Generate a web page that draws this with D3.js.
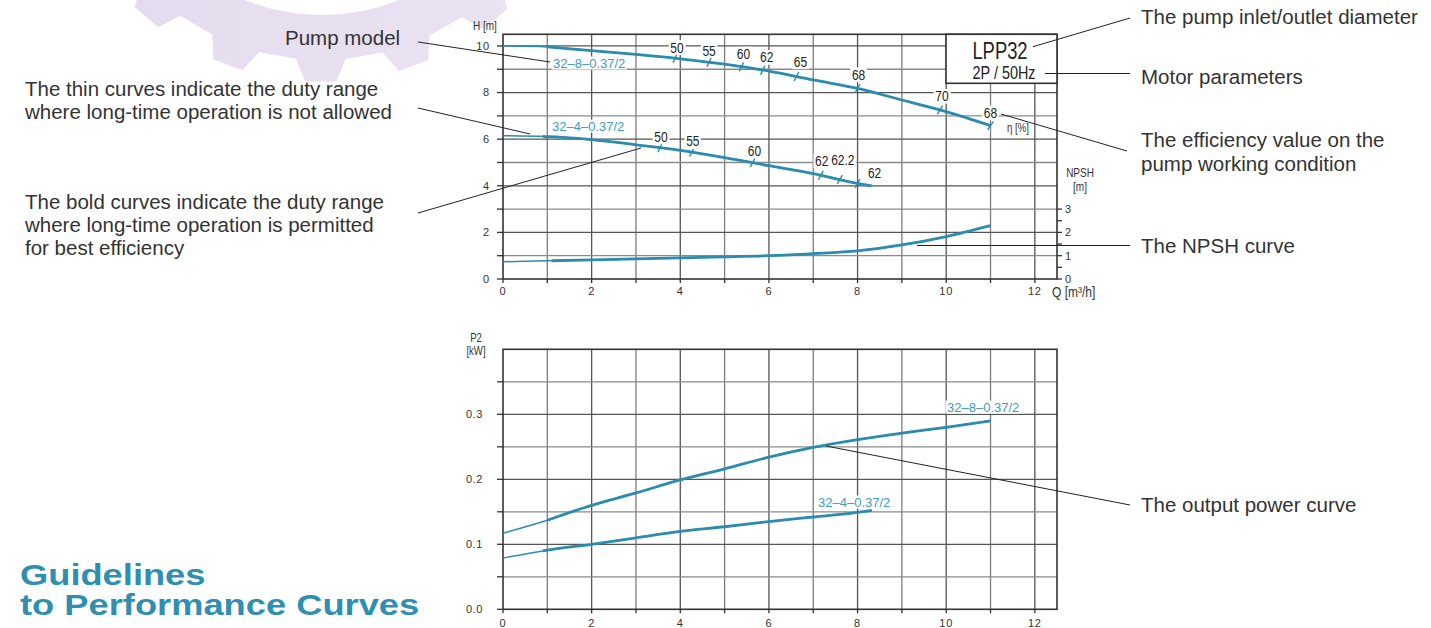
<!DOCTYPE html>
<html><head><meta charset="utf-8">
<script src="https://cdn.jsdelivr.net/npm/d3@7"></script>
<style>
html,body{margin:0;padding:0;background:#fff;}
svg{display:block;font-family:"Liberation Sans",Arial,sans-serif;}
</style></head><body>
<svg id="c" width="1431" height="628"></svg>
<script>
// ---------- data ----------
const flowQ = [0,1,2,3,4,5,6,7,8,9,10,11];
const head328 = [10.0,9.96,9.8,9.64,9.45,9.22,8.92,8.54,8.18,7.68,7.18,6.58];
const flowQ324 = [0,1,2,3,4,5,6,7,8,8.32];
const head324 = [6.15,6.11,5.98,5.76,5.52,5.21,4.86,4.52,4.1,4.0];
const npsh = [0.74,0.78,0.82,0.86,0.91,0.95,1.0,1.09,1.21,1.46,1.82,2.29];
const power328 = [0.117,0.137,0.160,0.179,0.199,0.216,0.234,0.249,0.261,0.271,0.280,0.290];
const power324 = [0.079,0.091,0.100,0.110,0.120,0.127,0.135,0.142,0.149,0.152];
const eff328Q = [3.88,4.65,5.38,5.86,6.62,8.0,9.86,11.0];
const eff328 = ["50","55","60","62","65","68","70","68"];
const eff324Q = [3.54,4.26,5.63,7.17,7.6,8.0];
const eff324 = ["50","55","60","62","62.2","62"];
const qTicks = [0,2,4,6,8,10,12];
const hTicks = [0,2,4,6,8,10];
const npshTicks = [0,1,2,3];
const pTicks = [0,0.1,0.2,0.3];
const pTickLabels = ["0.0","0.1","0.2","0.3"];
const models = ["32–8–0.37/2","32–4–0.37/2"];
const pumpName = "LPP32";
const motorText = "2P / 50Hz";

// ---------- layout (style only) ----------
const effOff328 = [[2,-11],[0,-12],[2,-13],[4,-13],[4,-15],[1,-14],[2,-14],[0,-13]];
const effOff324 = [[1,-11],[1,-11],[2,-12],[1,-15],[3,-20],[17,-11]];
const TEAL = "#2b8cad", LTEAL = "#3d9cc0", TXT = "#333";
const NX = 0.8; // horizontal condensing for narrow labels

const svg = d3.select("#c");

// ---------- watermark gear ----------
(function(){
  const cx=322, cy=-190, rRoot=250, rTip=272, rHole=205, n=18;
  const p = d3.path();
  for (let i=0;i<n;i++){
    const a0 = i*2*Math.PI/n + 0.08;
    const step = 2*Math.PI/n;
    const pts = [[a0,rRoot],[a0+step*0.12,rTip],[a0+step*0.45,rTip],[a0+step*0.57,rRoot]];
    pts.forEach((q,j)=>{
      const X=cx+q[1]*Math.cos(q[0]), Y=cy+q[1]*Math.sin(q[0]);
      if(i===0&&j===0) p.moveTo(X,Y); else p.lineTo(X,Y);
    });
  }
  p.closePath();
  p.moveTo(cx+rHole,cy); p.arc(cx,cy,rHole,0,2*Math.PI,true); p.closePath();
  const grad = svg.append("defs").append("linearGradient").attr("id","wg").attr("x1","0").attr("x2","1");
  grad.append("stop").attr("offset","0").attr("stop-color","#e4daee");
  grad.append("stop").attr("offset","1").attr("stop-color","#ebe4f2");
  svg.append("path").attr("d",p.toString()).attr("fill","url(#wg)").attr("fill-rule","evenodd");
})();

// ---------- scales ----------
const x = d3.scaleLinear().domain([0,12.5]).range([503,1057]);
const yH = d3.scaleLinear().domain([0,10.5]).range([279,34.3]);
const yP = d3.scaleLinear().domain([0,0.4]).range([609.3,349.3]);

function grid(g, yS, yMaxV, hStep, hCount){
  for(let q=1;q<=12;q++){
    g.append("line").attr("x1",x(q)).attr("x2",x(q)).attr("y1",yS(0)).attr("y2",yS(yMaxV))
      .attr("stroke", q%2? "#7d7d7d":"#555").attr("stroke-width",1.3);
  }
  for(let k=1;k<=hCount;k++){
    const v=k*hStep;
    g.append("line").attr("x1",x(0)).attr("x2",x(12.5)).attr("y1",yS(v)).attr("y2",yS(v))
      .attr("stroke", k%2? "#8a8a8a":"#555").attr("stroke-width",1.3);
  }
  g.append("rect").attr("x",x(0)).attr("y",yS(yMaxV)).attr("width",x(12.5)-x(0)).attr("height",yS(0)-yS(yMaxV))
    .attr("fill","none").attr("stroke","#333").attr("stroke-width",1.6);
}

// narrow text: regular font condensed horizontally around its anchor
function ntext(g, X, Y, str, size, anchor, fill, bg){
  const gg = g.append("g").attr("transform",`translate(${X},${Y}) scale(${NX},1)`);
  const t = gg.append("text").attr("x",0).attr("y",0).attr("dy","0.35em").text(str)
    .attr("font-size",size).attr("fill",fill||TXT).attr("text-anchor",anchor||"middle");
  if(bg){
    const bb = t.node().getBBox();
    gg.insert("rect", ()=>t.node()).attr("x",bb.x-2).attr("y",bb.y+1).attr("width",bb.width+4).attr("height",bb.height-2).attr("fill","#fff");
  }
  return t;
}

function withBg(g, X, Y, str, opts){
  const t = g.append("text").attr("x",X).attr("y",Y).text(str)
    .attr("font-size",opts.size).attr("fill",opts.fill||TXT)
    .attr("text-anchor",opts.anchor||"middle").attr("dy","0.35em");
  const bb = t.node().getBBox();
  g.insert("rect", ()=>t.node()).attr("x",bb.x-1.5).attr("y",bb.y+1).attr("width",bb.width+3).attr("height",bb.height-2).attr("fill","#fff");
  return t;
}

function interp(qs, vs, q){
  for(let i=0;i<qs.length-1;i++){
    if(q>=qs[i]&&q<=qs[i+1]){ const f=(q-qs[i])/(qs[i+1]-qs[i]); return vs[i]+f*(vs[i+1]-vs[i]); }
  }
  return vs[vs.length-1];
}

function curve(g, qs, vs, yS, split){
  const pts = qs.map((q,i)=>[q,vs[i]]);
  const sp = [split, interp(qs,vs,split)];
  const bold = [sp].concat(pts.filter(d=>d[0]>split));
  const line = d3.line().x(d=>x(d[0])).y(d=>yS(d[1])).curve(d3.curveMonotoneX);
  g.append("path").attr("d",line(pts)).attr("fill","none").attr("stroke",TEAL).attr("stroke-width",1.5);
  g.append("path").attr("d",line(bold)).attr("fill","none").attr("stroke",TEAL).attr("stroke-width",2.8).attr("stroke-linejoin","round");
}

// ---------- top chart ----------
const topG = svg.append("g");
grid(topG, yH, 10.5, 1, 10);
for(let h=0;h<=10;h++) topG.append("line").attr("x1",497).attr("x2",x(0)).attr("y1",yH(h)).attr("y2",yH(h)).attr("stroke","#333").attr("stroke-width",1.3);
hTicks.forEach(h=>topG.append("text").attr("x",490).attr("y",yH(h)).attr("dy","0.35em").attr("text-anchor","end")
  .attr("font-size",11).attr("letter-spacing",0.8).attr("fill",TXT).text(h));
for(let q=0;q<=12;q++) topG.append("line").attr("x1",x(q)).attr("x2",x(q)).attr("y1",yH(0)).attr("y2",yH(0)+4).attr("stroke","#333").attr("stroke-width",1.3);
qTicks.forEach(q=>topG.append("text").attr("x",x(q)).attr("y",295).attr("text-anchor","middle")
  .attr("font-size",11).attr("letter-spacing",0.8).attr("fill",TXT).text(q));
for(let v=0;v<=3.01;v+=0.5) topG.append("line").attr("x1",x(12.5)).attr("x2",x(12.5)+5).attr("y1",yH(v)).attr("y2",yH(v)).attr("stroke","#333").attr("stroke-width",1.3);
npshTicks.forEach(v=>topG.append("text").attr("x",1065).attr("y",yH(v)).attr("dy","0.35em")
  .attr("font-size",11).attr("fill",TXT).text(v));
ntext(topG, 1080, 173, "NPSH", 12.5);
ntext(topG, 1080, 187, "[m]", 12.5);
ntext(topG, 473, 26, "H [m]", 12.5, "start");
ntext(topG, 1052, 292, "Q [m³/h]", 15, "start");

topG.append("rect").attr("x",946).attr("y",yH(10.5)).attr("width",x(12.5)-946).attr("height",49).attr("fill","#fff").attr("stroke","#333").attr("stroke-width",1.6);
ntext(topG, 1000, 50.5, pumpName, 23, "middle", "#222");
ntext(topG, 1004, 72.5, motorText, 18, "middle", "#222");

curve(topG, flowQ, head328, yH, 1);
curve(topG, flowQ324, head324, yH, 0.9);
curve(topG, flowQ, npsh, yH, 1.1);

withBg(topG, 553, 63, models[0], {size:13, fill:LTEAL, anchor:"start"});
withBg(topG, 552, 126, models[1], {size:13, fill:LTEAL, anchor:"start"});

function effMarks(qs, labels, offs, hq, hv){
  qs.forEach((q,i)=>{
    const h = interp(hq,hv,q);
    const px=x(q), py=yH(h);
    const qa = Math.max(q-0.1,0), qb = Math.min(q+0.1,hq[hq.length-1]);
    const ang = Math.atan2(yH(interp(hq,hv,qb))-yH(interp(hq,hv,qa)), x(qb)-x(qa));
    const nx = -Math.sin(ang), ny = Math.cos(ang);
    topG.append("line").attr("x1",px-nx*4.5+1.5).attr("y1",py-ny*4.5).attr("x2",px+nx*4.5-1.5).attr("y2",py+ny*4.5)
      .attr("stroke",TEAL).attr("stroke-width",1.4);
    ntext(topG, px+offs[i][0], py+offs[i][1], labels[i], 15, "middle", "#222", true);
  });
}
effMarks(eff328Q, eff328, effOff328, flowQ, head328);
effMarks(eff324Q, eff324, effOff324, flowQ324, head324);
ntext(topG, 1007, 128, "η  [%]", 12, "start");

// ---------- bottom chart ----------
const bot = svg.append("g");
grid(bot, yP, 0.4, 0.05, 7);
for(let k=0;k<=7;k++) bot.append("line").attr("x1",497).attr("x2",x(0)).attr("y1",yP(k*0.05)).attr("y2",yP(k*0.05)).attr("stroke","#333").attr("stroke-width",1.3);
pTicks.forEach((v,i)=>bot.append("text").attr("x",483).attr("y",yP(v)).attr("dy","0.35em").attr("text-anchor","end")
  .attr("font-size",11).attr("letter-spacing",0.6).attr("fill",TXT).text(pTickLabels[i]));
for(let q=0;q<=12;q++) bot.append("line").attr("x1",x(q)).attr("x2",x(q)).attr("y1",yP(0)).attr("y2",yP(0)+4).attr("stroke","#333").attr("stroke-width",1.3);
qTicks.forEach(q=>bot.append("text").attr("x",x(q)).attr("y",627).attr("text-anchor","middle")
  .attr("font-size",11).attr("letter-spacing",0.8).attr("fill",TXT).text(q));
ntext(bot, 476, 338, "P2", 12);
ntext(bot, 476, 351, "[kW]", 12);
curve(bot, flowQ, power328, yP, 1);
curve(bot, flowQ324, power324, yP, 0.9);
withBg(bot, 947, 407, models[0], {size:13, fill:LTEAL, anchor:"start"});
withBg(bot, 818, 502, models[1], {size:13, fill:LTEAL, anchor:"start"});

// ---------- annotations ----------
const ann = svg.append("g").attr("font-size",20.5).attr("fill",TXT);
const leaders = [
  [[418,42],[550,62]],
  [[418,108],[530,134]],
  [[418,213],[641,148]],
  [[1033,46.7],[1130,18]],
  [[1045,73.5],[1130,73.5]],
  [[1001,114],[1127,151]],
  [[917,245.5],[1130,245.5]],
  [[826,446],[1130,505]]
];
leaders.forEach(l=>ann.append("line").attr("x1",l[0][0]).attr("y1",l[0][1]).attr("x2",l[1][0]).attr("y2",l[1][1]).attr("stroke","#222").attr("stroke-width",1));
const notes = [
  [285,45,"Pump model"],
  [25,96,"The thin curves indicate the duty range"],
  [25,119,"where long-time operation is not allowed"],
  [25,208.5,"The bold curves indicate the duty range"],
  [25,232,"where long-time operation is permitted"],
  [25,255,"for best efficiency"],
  [1141,24,"The pump inlet/outlet diameter"],
  [1141,84,"Motor parameters"],
  [1141,147,"The efficiency value on the"],
  [1141,170.5,"pump working condition"],
  [1141,253,"The NPSH curve"],
  [1141,512,"The output power curve"]
];
notes.forEach(n=>ann.append("text").attr("x",n[0]).attr("y",n[1]).text(n[2]));

// ---------- title ----------
const title = svg.append("g").attr("font-weight","bold").attr("font-size",30).attr("fill","#2f8fb0");
title.append("g").attr("transform","translate(20,585) scale(1.21,1)").append("text").text("Guidelines");
title.append("g").attr("transform","translate(20,615) scale(1.21,1)").append("text").text("to Performance Curves");
</script>
</body></html>
